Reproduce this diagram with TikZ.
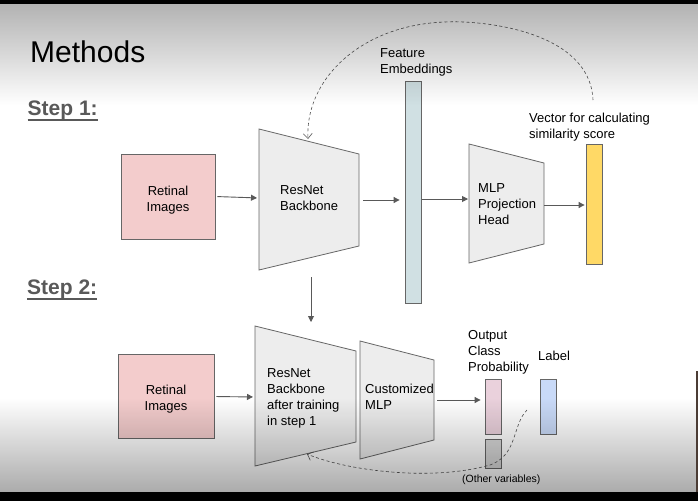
\documentclass[tikz,border=0pt]{standalone}
\usepackage{fontspec}
\setmainfont{Liberation Sans}
\usetikzlibrary{arrows.meta,fadings,calc}
\definecolor{edge}{HTML}{666666}
\definecolor{arrowc}{HTML}{595959}
\definecolor{stepc}{HTML}{595959}
\definecolor{pinkbox}{HTML}{F3CCCC}
\definecolor{trapfill}{HTML}{EDEDED}
\definecolor{featc}{HTML}{D0E0E3}
\definecolor{yellowc}{HTML}{FFD966}
\definecolor{outpink}{HTML}{EAD1DC}
\definecolor{labelblue}{HTML}{C9DAF8}
\definecolor{grayc}{HTML}{D9D9D9}
\definecolor{dashc}{HTML}{555555}
\definecolor{darkbar}{HTML}{4B3C35}
\tikzfading[name=fadetop, top color=transparent!0, bottom color=transparent!100]
\tikzfading[name=fadebot, top color=transparent!100, bottom color=transparent!0]
\begin{document}
\begin{tikzpicture}[x=1pt,y=-1pt,
  lbl/.style={font=\fontsize{13}{16}\selectfont, inner sep=0pt, text=black},
  boxn/.style={draw=edge, line width=0.8pt, inner sep=0pt},
  trap/.style={draw=edge, fill=trapfill, line width=0.8pt, line join=miter},
  arr/.style={draw=arrowc, line width=0.9pt, -{Triangle[length=6pt,width=6pt]}},
  dashcurve/.style={draw=dashc, line width=0.6pt, dash pattern=on 3pt off 2.5pt, -{Straight Barb[length=5pt,width=9pt]}},
  steplbl/.style={font=\fontsize{21}{24}\selectfont\bfseries, text=stepc, inner sep=0pt}
]
\useasboundingbox (0,0) rectangle (698,501);
\fill[white] (0,0) rectangle (698,501);

% Title and step labels
\node[font=\fontsize{30}{34}\selectfont, inner sep=0pt, anchor=base west] (title) at (30,62.5) {Methods};
\node[steplbl, anchor=base west] (s1) at (27.5,115.7) {Step 1:};
\draw[stepc, line width=2.2pt] ($(s1.base west)+(0,4)$) -- ($(s1.base east)+(0,4)$);
\node[steplbl, anchor=base west] (s2) at (27,294.3) {Step 2:};
\draw[stepc, line width=2.2pt] ($(s2.base west)+(0,4.5)$) -- ($(s2.base east)+(0,4.5)$);

% ---------- Step 1 ----------
\node[boxn, fill=pinkbox, minimum width=94pt, minimum height=85pt] (ri1) at (168,196.5) {};
\node[lbl, align=center, anchor=base] (ri1t) at (168,211) {Retinal\\Images};

\fill[trap] (259,129) -- (359,154) -- (359,246) -- (259,270) -- cycle;
\node[lbl, align=left, anchor=base west] (rn1t) at (280,210) {ResNet\\Backbone};
\coordinate (t1w) at (259,198);
\coordinate (t1e) at (359,200);

\node[boxn, fill=featc, minimum width=16pt, minimum height=222pt] (feat) at (413,192) {};
\node[lbl, align=left, anchor=base west] (featt) at (380,73) {Feature\\Embeddings};

\fill[trap] (469,144) -- (544,163) -- (544,244) -- (469,263) -- cycle;
\node[lbl, align=left, anchor=base west] (mlpt) at (478,224) {MLP\\Projection\\Head};
\coordinate (t2w) at (469,199);
\coordinate (t2e) at (544,205);

\node[boxn, fill=yellowc, minimum width=16pt, minimum height=120pt] (vec) at (594,204) {};
\node[lbl, align=left, anchor=base west] (vect) at (529,138) {Vector for calculating\\similarity score};

\draw[arr, shorten <=2pt, shorten >=2pt] (ri1.east) -- (t1w);
\draw[arr, shorten <=4pt, shorten >=5pt] (t1e) -- (t1e -| feat.west);
\draw[arr, shorten <=1pt, shorten >=1pt] (feat.east |- t2w) -- (t2w);
\draw[arr, shorten >=1pt] (t2e) -- (t2e -| vec.west);

\coordinate (vecsrc) at (593,100);
\coordinate (t1top) at (308,139);
\draw[dashcurve] (vecsrc) .. controls (590,30) and (480,20) .. (445,22) .. controls (360,25) and (305,80) .. (t1top);

\coordinate (dn1) at (311,277);
\coordinate (dn2) at (311,322);
\draw[arr] (dn1) -- (dn2);

% ---------- Step 2 ----------
\node[boxn, fill=pinkbox, minimum width=96pt, minimum height=84pt] (ri2) at (166,396.5) {};
\node[lbl, align=center, anchor=base] (ri2t) at (166,410) {Retinal\\Images};

\fill[trap] (255,326) -- (356,351) -- (356,442) -- (255,466) -- cycle;
\node[lbl, align=left, anchor=base west] (rn2t) at (267,425) {ResNet\\Backbone\\after training\\in step 1};
\coordinate (t3w) at (255,397);

\fill[trap] (360,341) -- (434,360) -- (434,440) -- (360,459) -- cycle;
\node[lbl, align=left, anchor=base west] (cmlpt) at (365,409) {Customized\\MLP};
\coordinate (t4e) at (434,400);

\node[boxn, fill=outpink, minimum width=16pt, minimum height=55pt] (out) at (493,406.5) {};
\node[lbl, align=left, anchor=base west] (outt) at (468,371) {Output\\Class\\Probability};
\node[boxn, fill=grayc, minimum width=16pt, minimum height=29pt] (oth) at (493,453.5) {};
\node[font=\fontsize{10.5}{12}\selectfont, inner sep=0pt, anchor=base west] (otht) at (462,482) {(Other variables)};

\node[boxn, fill=labelblue, minimum width=16pt, minimum height=55pt] (lab) at (548,406.5) {};
\node[lbl, anchor=base west] (labt) at (538,360) {Label};

\draw[arr, shorten <=2pt, shorten >=2pt] (ri2.east) -- (t3w);
\draw[arr, shorten <=3pt, shorten >=4pt] (t4e) -- (t4e -| out.west);

\coordinate (othsrc) at (527,410);
\coordinate (t3bot) at (307,454);
\draw[dashcurve] (othsrc) .. controls (512,425) and (518,455) .. (490,465) .. controls (430,482) and (345,470) .. (t3bot);

% ---------- screen shading and bars ----------
\fill[black, fill opacity=0.30, path fading=fadetop] (0,3.5) rectangle (698,105);
\fill[black, fill opacity=0.33, path fading=fadebot] (0,398) rectangle (698,492);
\fill[black] (0,0) rectangle (698,3.5);
\fill[black] (0,492) rectangle (698,501);
\fill[darkbar] (695.5,371) rectangle (698,492);
\end{tikzpicture}
\end{document}
